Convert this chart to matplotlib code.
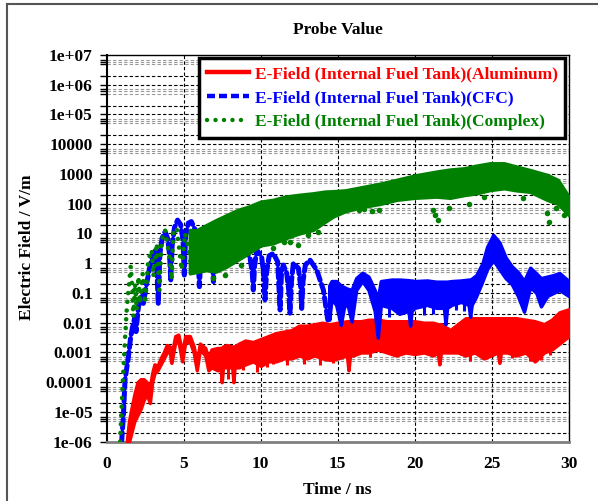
import numpy as np
import matplotlib
matplotlib.use("Agg")
import matplotlib.pyplot as plt
from matplotlib.lines import Line2D
from matplotlib.ticker import LogLocator, NullFormatter

# ---------------- data (log10 of E-field in V/m) ----------------
# Aluminum: noisy band, upper / lower envelope
red_t = [1.30, 1.45, 1.60, 1.80, 2.00, 2.20, 2.40, 2.60, 2.80, 2.95,
         3.10, 3.30, 3.50, 3.70, 3.90, 4.10, 4.20, 4.45, 4.65, 4.90,
         5.10, 5.40, 5.65, 5.85, 6.05, 6.40, 6.60, 6.80, 7.20, 7.40,
         7.47, 7.55, 7.80, 8.15, 8.23, 8.30, 8.60, 9.00, 9.50, 10.0,
         10.5, 11.0, 11.5, 12.0, 12.5, 13.0, 13.5, 14.0, 14.5, 15.0,
         15.6, 15.7, 15.8, 16.0, 16.5, 17.0, 17.6, 18.2, 18.8, 19.4,
         20.0, 20.6, 21.2, 21.5, 21.6, 21.7, 22.3, 22.8, 23.3, 23.9,
         24.5, 25.4, 25.5, 25.6, 26.0, 26.6, 27.2, 27.8, 28.4, 28.9,
         29.4, 30.0]
red_hi_log = [-6.0, -5.3, -4.9, -4.4, -4.0, -3.9, -3.9, -4.0, -4.2, -3.7,
              -3.4, -3.45, -3.2, -3.0, -2.75, -2.8, -3.1, -2.45, -2.4, -3.0,
              -2.45, -2.45, -2.8, -3.35, -2.7, -2.85, -3.2, -2.9, -2.85, -2.85,
              -2.85, -2.8, -2.75, -2.8, -2.8, -2.8, -2.7, -2.6, -2.65, -2.55,
              -2.45, -2.35, -2.3, -2.25, -2.1, -2.1, -2.05, -2.0, -2.05, -2.0,
              -1.95, -1.95, -1.95, -1.95, -1.95, -1.9, -1.9, -1.95, -1.95, -1.95,
              -1.95, -2.0, -2.0, -2.05, -2.05, -2.05, -2.25, -2.05, -1.85, -1.85,
              -1.85, -1.85, -1.85, -1.85, -1.85, -1.85, -1.9, -1.95, -2.05, -1.9,
              -1.65, -1.55]
red_lo_log = [-6.0, -6.0, -5.7, -5.3, -5.1, -4.9, -4.6, -4.4, -4.7, -4.0,
              -3.7, -3.6, -3.4, -3.2, -3.0, -3.0, -3.35, -2.65, -2.6, -3.3,
              -2.65, -2.65, -3.0, -3.6, -2.9, -3.1, -3.6, -3.5, -3.6, -3.5,
              -4.0, -3.5, -3.5, -3.5, -4.0, -3.5, -3.5, -3.4, -3.3, -3.45,
              -3.3, -3.3, -3.2, -3.2, -3.1, -3.2, -3.1, -3.2, -3.25, -3.2,
              -3.1, -3.6, -3.1, -3.1, -3.0, -3.0, -2.9, -3.0, -3.1, -3.0,
              -3.05, -3.0, -3.1, -3.0, -3.4, -3.0, -3.0, -3.0, -3.1, -3.0,
              -3.2, -3.0, -3.35, -3.0, -3.0, -3.1, -3.0, -3.3, -3.0, -2.9,
              -2.7, -2.45]
# Aluminum: narrow downward spikes below the band (time, bottom, top)
red_spike_t = [7.9, 8.87, 9.74, 10.4, 10.8, 11.7, 12.8, 13.85, 14.7, 17.1,
               19.7, 23.6, 24.5, 26.3, 27.5, 28.2, 28.8]
red_spike_lo_log = [-3.9, -3.6, -3.65, -3.48, -3.4, -3.42, -3.4, -3.42, -3.35, -3.14,
                    -3.03, -3.3, -3.2, -3.2, -3.3, -3.25, -3.1]
red_spike_hi_log = [-3.2, -3.2, -3.2, -3.2, -3.1, -3.1, -3.1, -3.1, -3.1, -2.9,
                    -2.9, -2.9, -2.9, -2.9, -2.9, -2.9, -2.8]

# CFC: oscillating early part (dashed trace)
blue_t = [0.97, 1.08, 1.19, 1.41, 1.56, 1.73, 1.84, 1.90, 2.06, 2.27,
          2.38, 2.60, 2.81, 3.03, 3.20, 3.35, 3.45, 3.60, 3.79, 3.95,
          4.08, 4.16, 4.25, 4.40, 4.60, 4.80, 4.95, 5.04, 5.12, 5.30,
          5.50, 5.74, 5.92, 6.02, 6.12, 6.30, 6.60, 6.85, 6.93, 7.02,
          7.25, 7.80, 8.10, 8.23, 8.50, 8.90, 9.30, 9.45, 9.52, 9.60,
          9.74, 10.06, 10.20, 10.28, 10.38, 10.55, 10.82, 11.10, 11.26, 11.35,
          11.47, 11.69, 11.82, 11.90, 12.00, 12.12, 12.45, 12.60, 12.66, 12.75,
          12.90, 13.20, 13.64, 14.07, 14.39]
blue_log = [-6.0, -5.16, -3.92, -3.14, -2.47, -2.02, -1.8, -2.3, -1.46, -1.12,
            -1.35, -0.67, -0.1, 0.33, 0.45, -1.35, 0.3, 0.85, 1.06, 0.85,
            0.3, -0.56, 0.6, 1.2, 1.45, 1.3, 0.8, -0.4, 0.9, 1.35,
            1.4, 1.12, 0.5, -0.79, 0.4, 0.84, 0.61, 0.1, -0.62, 0.2,
            0.56, 0.45, 0.2, 0.0, 0.4, 0.45, 0.2, -0.3, -0.9, -0.1,
            0.45, 0.22, -0.4, -1.23, -0.3, 0.25, 0.33, 0.05, -1.57, -0.3,
            -0.06, -0.34, -0.9, -1.68, -0.6, 0.0, -0.17, -0.8, -1.52, -0.6,
            -0.06, 0.11, -0.23, -0.9, -2.02]
# CFC: noisy later part, upper / lower envelope
blue_band_t = [14.45, 14.6, 14.9, 15.2, 15.4, 15.6, 15.9, 16.2, 16.6, 17.0,
               17.4, 17.6, 17.8, 18.5, 19.0, 19.6, 19.7, 19.8, 20.0, 20.8,
               21.4, 21.9, 22.0, 22.1, 22.4, 23.0, 23.5, 23.6, 23.7, 24.0,
               24.4, 24.7, 25.1, 25.5, 25.9, 26.3, 26.7, 27.1, 27.5, 27.9,
               28.2, 28.6, 29.0, 29.4, 30.0]
blue_hi_log = [-0.75, -0.6, -0.6, -0.75, -0.8, -0.85, -0.9, -0.5, -0.32, -0.45,
               -0.9, -1.2, -0.6, -0.55, -0.55, -0.57, -0.58, -0.58, -0.6, -0.58,
               -0.62, -0.62, -0.62, -0.62, -0.6, -0.58, -0.55, -0.55, -0.52, -0.4,
               0.0, 0.55, 0.95, 0.7, 0.2, -0.1, -0.3, -0.6, -0.15, -0.35,
               -0.5, -0.45, -0.4, -0.33, -0.6]
blue_lo_log = [-1.9, -1.2, -1.4, -2.07, -1.5, -1.3, -1.96, -0.9, -0.6, -0.9,
               -1.6, -2.5, -1.4, -1.5, -1.7, -1.6, -2.1, -1.6, -1.5, -1.4,
               -1.5, -1.5, -2.05, -1.5, -1.4, -1.3, -1.4, -1.8, -1.4, -1.1,
               -0.6, -0.2, 0.1, -0.2, -0.5, -0.7, -1.1, -1.63, -0.8, -1.0,
               -1.45, -1.1, -1.0, -0.9, -1.1]
# CFC: narrow downward spikes below the band (time, bottom, top)
blue_spike_t = [18.3, 18.8, 20.6, 21.2, 22.7, 23.2]
blue_spike_lo_log = [-1.8, -1.57, -1.75, -1.7, -1.57, -1.6]
blue_spike_hi_log = [-1.3, -1.3, -1.3, -1.3, -1.2, -1.2]

# Complex: scattered early part (dotted trace)
green_t = [0.87, 0.95, 1.04, 1.13, 1.21, 1.30, 1.41, 1.56, 1.67, 1.73,
           1.84, 1.95, 2.06, 2.16, 2.34, 2.49, 2.70, 2.92, 3.03, 3.25,
           3.42, 3.57, 3.79, 4.11, 4.22, 4.33, 4.55, 4.87, 5.09, 5.30,
           5.52]
green_log = [-6.0, -5.05, -4.04, -3.14, -2.36, -1.57, -0.9, -0.1, -0.9, -1.8,
             -0.67, -1.57, -0.45, -1.35, -0.34, -1.35, 0.11, 0.45, -0.45, 0.67,
             -0.9, 0.78, 1.12, 0.11, -0.56, 1.12, 1.17, -0.23, 1.0, 0.56,
             -0.23]
# Complex: dense later part, upper / lower envelope
green_band_t = [5.4, 5.8, 6.5, 7.1, 7.8, 8.5, 9.2, 10.0, 10.8, 11.6,
                12.5, 13.4, 14.2, 14.7, 15.5, 16.7, 17.8, 18.8, 20.0, 21.4,
                22.3, 23.2, 24.0, 24.9, 25.8, 26.6, 27.5, 28.6, 29.3, 30.0]
green_hi_log = [1.12, 1.1, 1.29, 1.45, 1.62, 1.79, 1.9, 2.07, 2.13, 2.24,
                2.3, 2.35, 2.41, 2.42, 2.45, 2.57, 2.68, 2.8, 2.95, 3.08,
                3.15, 3.19, 3.28, 3.36, 3.36, 3.25, 3.13, 2.97, 2.8, 2.24]
green_lo_log = [-0.34, -0.3, -0.23, -0.28, -0.11, 0.11, 0.33, 0.6, 0.67, 0.84,
                1.0, 1.12, 1.4, 1.57, 1.75, 1.9, 2.0, 2.13, 2.2, 2.24,
                2.2, 2.29, 2.35, 2.46, 2.52, 2.45, 2.4, 2.13, 2.0, 1.62]
# Complex: isolated points below the band
green_out_t = [6.9, 7.7, 8.7, 10.8, 11.5, 11.9, 12.4, 13.1, 13.7, 14.9,
               16.4, 16.7, 17.2, 17.7, 21.2, 21.3, 21.5, 22.2, 23.5, 24.5,
               27.0, 28.6, 28.7, 29.2, 29.7]
green_out_log = [-0.5, -0.4, -0.05, 0.5, 0.72, 0.7, 0.6, 0.95, 1.05, 1.68,
                 1.8, 1.82, 1.75, 1.79, 1.79, 1.62, 1.45, 1.85, 2.0, 2.24,
                 2.18, 1.68, 1.4, 1.85, 1.62]

series_labels = ["E-Field (Internal Fuel Tank)(Aluminum)",
                 "E-Field (Internal Fuel Tank)(CFC)",
                 "E-Field (Internal Fuel Tank)(Complex)"]
series_colors = ["#ff0000", "#0000ff", "#008000"]

ytick_vals = [1e7, 1e6, 1e5, 1e4, 1e3, 1e2, 1e1, 1, 1e-1, 1e-2, 1e-3, 1e-4, 1e-5, 1e-6]
ytick_labels = ["1e+07", "1e+06", "1e+05", "10000", "1000", "100", "10", "1",
                "0.1", "0.01", "0.001", "0.0001", "1e-05", "1e-06"]
xtick_vals = [0, 5, 10, 15, 20, 25, 30]
xtick_labels = ["0", "5", "10", "15", "20", "25", "30"]


def v(a):
    return 10.0 ** np.asarray(a, dtype=float)


# ---------------- figure ----------------
plt.rcParams['font.family'] = ['Liberation Serif', 'DejaVu Serif']
plt.rcParams['font.weight'] = 'bold'

W, H = 598, 501
fig = plt.figure(figsize=(W / 100, H / 100), dpi=100)
ax = fig.add_axes([106.7 / W, 1 - 441.7 / H, 462.0 / W, 386.7 / H])
ax.set_yscale('log')
ax.set_ylim(1e-6, 1e7)
ax.set_xlim(0, 30)

# grid
dash = (0, (3, 2))
for e in range(-6, 7):
    ax.axhline(10.0 ** e, color='black', ls=dash, lw=0.8, zorder=1)
    ax.axhline(2 * 10.0 ** e, color='black', ls=dash, lw=0.8, zorder=1)
    for s in (5, 6, 7):
        ax.axhline(s * 10.0 ** e, color='#999999', ls=dash, lw=0.8, zorder=1)
for x in xtick_vals[1:-1]:
    ax.axvline(x, color='black', ls=dash, lw=0.8, zorder=1)

# data
c_red, c_blue, c_green = series_colors
ax.fill_between(red_t, v(red_lo_log), v(red_hi_log), color=c_red, lw=2.5, zorder=3)
ax.vlines(red_spike_t, v(red_spike_lo_log), v(red_spike_hi_log), color=c_red, lw=2.2, zorder=3)
ax.fill_between(blue_band_t, v(blue_lo_log), v(blue_hi_log), color=c_blue, lw=2.5, zorder=4)
ax.vlines(blue_spike_t, v(blue_spike_lo_log), v(blue_spike_hi_log), color=c_blue, lw=2.2, zorder=4)
ax.plot(blue_t, v(blue_log), color=c_blue, lw=3.6, ls=(0, (1.8, 0.9)),
        dash_capstyle='round', zorder=4)
ax.fill_between(green_band_t, v(green_lo_log), v(green_hi_log), color=c_green, lw=2.5, zorder=5)
ax.plot(green_t, v(green_log), color=c_green, lw=3.3, ls=(0, (0.01, 1.9)),
        dash_capstyle='round', zorder=5)
ax.scatter(green_out_t, v(green_out_log), s=16, color=c_green, lw=0, zorder=5)

# ticks
ax.set_yticks(ytick_vals)
ax.set_yticklabels(ytick_labels)
ax.yaxis.set_minor_locator(LogLocator(base=10, subs=(2, 5, 6, 7), numticks=50))
ax.yaxis.set_minor_formatter(NullFormatter())
ax.set_xticks(xtick_vals)
ax.set_xticklabels(xtick_labels)
ax.tick_params(axis='y', which='both', direction='out', length=5, width=1,
               labelsize=12.5, pad=5)
ax.tick_params(axis='x', which='both', length=0, labelsize=12.5, pad=10)
for lab in ax.get_xticklabels() + ax.get_yticklabels():
    lab.set_fontweight('bold')

for side in ('top', 'right'):
    ax.spines[side].set_color('black')
    ax.spines[side].set_linewidth(1.0)
ax.spines['left'].set_color('black')
ax.spines['left'].set_linewidth(1.5)
ax.spines['bottom'].set_color('#808080')
ax.spines['bottom'].set_linewidth(2.0)

# legend
handles = [Line2D([], [], color=c_red, lw=3.2),
           Line2D([], [], color=c_blue, lw=3.2, ls=(0, (1.8, 0.9))),
           Line2D([], [], color=c_green, lw=3.2, ls=(0, (0.01, 1.9)), dash_capstyle='round')]
leg = ax.legend(handles, series_labels, loc='upper right', bbox_to_anchor=(0.993, 0.992),
                frameon=True, fancybox=False, edgecolor='black', framealpha=1,
                handlelength=2.4, handletextpad=0.35, borderpad=0.45, labelspacing=0.45,
                borderaxespad=0, prop=dict(size=12.5, weight='bold'))
leg.get_frame().set_linewidth(2.5)
leg.set_zorder(10)
for txt, c in zip(leg.get_texts(), series_colors):
    txt.set_color(c)

# titles
cx = (106.7 + 568.7) / 2 / W
fig.text(cx, 1 - 30 / H, "Probe Value", ha='center', va='center', fontsize=12.5, fontweight='bold')
fig.text(cx, 1 - 490 / H, "Time / ns", ha='center', va='center', fontsize=12.5, fontweight='bold')
fig.text(27 / W, 1 - 247 / H, "Electric Field / V/m", ha='center', va='center',
         rotation=90, fontsize=12.5, fontweight='bold')

# outer frame (left and top edges visible)
fig.add_artist(Line2D([7 / W, 7 / W], [0, 1 - 4 / H], transform=fig.transFigure,
                      color='#555555', lw=1.5))
fig.add_artist(Line2D([7 / W, 1], [1 - 4 / H, 1 - 4 / H], transform=fig.transFigure,
                      color='#555555', lw=1.5))

fig.savefig("out.png", dpi=100)
